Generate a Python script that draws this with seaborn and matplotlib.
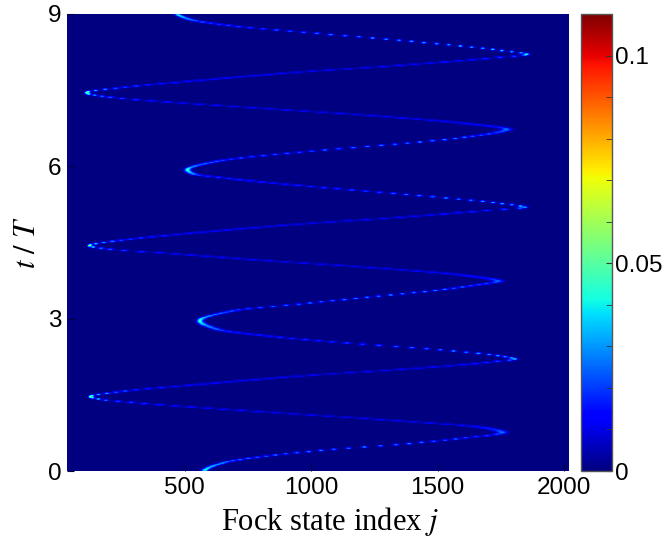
import numpy as np
import pandas as pd
import matplotlib
matplotlib.use("Agg")
import matplotlib.pyplot as plt
import seaborn as sns

# ---- data ----
# ridge centre (Fock index j) at time t/T, and ridge width (in j) there
t_pts = [0.00, 0.164, 0.295, 0.427, 0.525, 0.656, 0.755,
         0.853, 0.985, 1.116, 1.247, 1.345, 1.41, 1.463,
         1.556, 1.707, 1.871, 2.00, 2.10, 2.166, 2.20,
         2.265, 2.396, 2.54, 2.66, 2.79, 2.96,
         3.157, 3.289, 3.42, 3.552, 3.683, 3.735,
         3.846, 4.011, 4.142, 4.287, 4.372, 4.437,
         4.535, 4.70, 4.864, 4.996, 5.126, 5.193,
         5.27, 5.455, 5.62, 5.75, 5.85, 5.93,
         6.099, 6.28, 6.445, 6.577, 6.73,
         6.84, 7.005, 7.135, 7.267, 7.366, 7.45,
         7.542, 7.694, 7.858, 7.989, 8.12, 8.205,
         8.284, 8.48, 8.645, 8.763, 8.875, 8.974, 9.0]
j_pts = [578, 654, 826, 1089, 1353, 1617, 1759,
         1683, 1353, 958, 562, 299, 167, 125,
         233, 562, 958, 1353, 1617, 1748, 1808,
         1748, 1485, 1089, 826, 628, 560,
         694, 958, 1221, 1485, 1683, 1742,
         1617, 1221, 826, 430, 193, 121,
         233, 562, 958, 1353, 1683, 1847,
         1748, 1353, 958, 694, 536, 510,
         628, 958, 1353, 1617, 1775,
         1617, 1221, 826, 430, 193, 110,
         233, 562, 958, 1353, 1683, 1854,
         1748, 1353, 958, 694, 536, 477, 470]
sigma_pts = [8, 9, 9, 8, 8, 10, 14,
             17, 20, 20, 18, 12, 7, 4,
             9, 18, 20, 20, 16, 11, 7,
             7, 8, 12, 14, 13, 8,
             11, 9, 8, 8, 11, 15,
             17, 20, 20, 17, 9, 4,
             9, 18, 20, 19, 14, 7,
             7, 9, 14, 14, 10, 8,
             11, 10, 8, 8, 15,
             17, 20, 20, 17, 9, 4,
             9, 18, 20, 19, 14, 7,
             6, 7, 9, 12, 10, 8, 8]

x_ticks = [500, 1000, 1500, 2000]
y_ticks = [0, 3, 6, 9]
cbar_ticks = [0, 0.05, 0.1]
cbar_ticklabels = ["0", "0.05", "0.1"]
cbar_minor = [0.01 * k for k in range(12)]

j0, dj, j1 = 35, 2, 2021
n_t = 401          # time samples of the simulation
up = 3             # display rows per time sample (smooth display)
t_max = 9.0


def pchip(x, y, xq):
    x = np.asarray(x, float)
    y = np.asarray(y, float)
    h = np.diff(x)
    d = np.diff(y) / h
    m = np.zeros_like(y)
    for k in range(1, len(y) - 1):
        if d[k - 1] * d[k] > 0:
            w1 = 2 * h[k] + h[k - 1]
            w2 = h[k] + 2 * h[k - 1]
            m[k] = (w1 + w2) / (w1 / d[k - 1] + w2 / d[k])
    idx = np.clip(np.searchsorted(x, xq) - 1, 0, len(x) - 2)
    hh = h[idx]
    s = (xq - x[idx]) / hh
    h00 = 2 * s**3 - 3 * s**2 + 1
    h10 = s**3 - 2 * s**2 + s
    h01 = -2 * s**3 + 3 * s**2
    h11 = s**3 - s**2
    return h00 * y[idx] + h10 * hh * m[idx] + h01 * y[idx + 1] + h11 * hh * m[idx + 1]


def smooth(a, width, axis):
    r = int(np.ceil(3 * width))
    x = np.arange(-r, r + 1)
    ker = np.exp(-0.5 * (x / width) ** 2)
    ker /= ker.sum()
    return np.apply_along_axis(lambda v: np.convolve(v, ker, mode="same"), axis, a)


j_vals = np.arange(j0, j1, dj)
t_vals = np.linspace(0, t_max, n_t)
centre = pchip(t_pts, j_pts, t_vals)
sig = np.interp(t_vals, t_pts, sigma_pts)
P = np.exp(-(j_vals[None, :] - centre[:, None]) ** 2 / (2 * sig[:, None] ** 2)) / (
    np.sqrt(2 * np.pi) * sig[:, None])

# display grid: rows blended linearly between time samples, slight display blur
t_disp = np.linspace(0, t_max, (n_t - 1) * up + 1)
pos = t_disp / (t_vals[1] - t_vals[0])
k = np.clip(np.floor(pos).astype(int), 0, n_t - 2)
w = (pos - k)[:, None]
P_disp = (1 - w) * P[k] + w * P[k + 1]
P_disp = smooth(P_disp, 1.6, 0)
P_disp = smooth(P_disp, 1.1, 1)
dt = t_disp[1] - t_disp[0]
df = pd.DataFrame(P_disp, index=np.round(t_disp, 4), columns=j_vals)

plt.rcParams["font.family"] = ["Liberation Sans", "DejaVu Sans"]
plt.rcParams["mathtext.fontset"] = "stix"

fig = plt.figure(figsize=(6.63, 5.37), dpi=100)
ax = fig.add_axes([67 / 663, 66 / 537, 502 / 663, 457 / 537])
cax = fig.add_axes([581 / 663, 66 / 537, 31 / 663, 457 / 537])

sns.heatmap(df, ax=ax, cmap="jet", vmin=0, vmax=0.11, cbar_ax=cax,
            xticklabels=False, yticklabels=False, rasterized=True)
ax.invert_yaxis()


def xpos(j):
    return (j - j0) / dj + 0.5


def ypos(t):
    return t / dt + 0.5


ax.set_xlim(0, len(j_vals))
ax.set_ylim(ypos(0), ypos(t_max))
ax.set_xticks([xpos(v) for v in x_ticks])
ax.set_xticklabels([str(v) for v in x_ticks])
ax.set_yticks([ypos(v) for v in y_ticks])
ax.set_yticklabels([str(v) for v in y_ticks])
ax.tick_params(axis="both", direction="in", length=5, color="#000040",
               labelsize=17.5, pad=4)
for sp in ax.spines.values():
    sp.set_visible(False)

ax.set_xlabel("Fock state index $j$", fontsize=22, family="Liberation Serif")
ax.xaxis.set_label_coords(0.524, -0.075)
ax.set_ylabel("$t\\ /\\ T$", fontsize=22, labelpad=4)

cb = ax.collections[0].colorbar
cb.set_ticks(cbar_ticks)
cb.set_ticklabels(cbar_ticklabels)
cb.set_ticks(cbar_minor, minor=True)
cb.ax.tick_params(which="both", direction="in", length=4, right=True, left=False,
                  color="#333333", labelsize=17.5, pad=2)
cb.outline.set_linewidth(1.0)
cb.outline.set_edgecolor("#555555")

fig.savefig("out.png", dpi=100)
